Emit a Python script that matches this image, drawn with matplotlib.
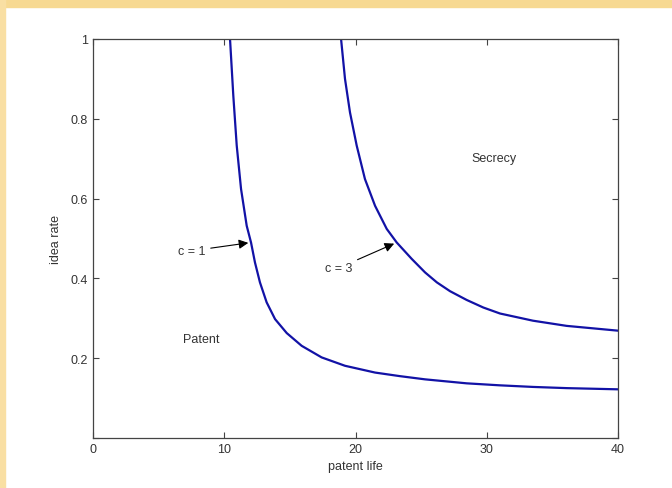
import matplotlib.pyplot as plt
from matplotlib.patches import Rectangle

# curve c = 1
x_c1 = [10.44, 10.69, 10.95, 11.28, 11.71, 12.04, 12.34, 12.72, 13.23, 13.87,
        14.76, 15.90, 17.42, 19.20, 21.49, 23.39, 25.30, 28.47, 31.0, 33.52,
        36.09, 40.0]
y_c1 = [1.0, 0.858, 0.733, 0.624, 0.532, 0.49, 0.44, 0.39, 0.34, 0.298,
        0.263, 0.231, 0.202, 0.181, 0.164, 0.155, 0.147, 0.137, 0.132, 0.128,
        0.125, 0.122]

# curve c = 3
x_c3 = [18.90, 19.20, 19.58, 20.09, 20.72, 21.49, 22.38, 23.14, 24.28, 25.30,
        26.2, 27.2, 28.47, 29.74, 31.01, 33.52, 36.09, 40.0]
y_c3 = [1.0, 0.9, 0.816, 0.733, 0.649, 0.582, 0.524, 0.49, 0.449, 0.415,
        0.39, 0.368, 0.346, 0.327, 0.312, 0.294, 0.281, 0.269]

xticks = [0, 10, 20, 30, 40]
yticks = [0, 0.2, 0.4, 0.6, 0.8, 1]
ytick_labels = ["", "0.2", "0.4", "0.6", "0.8", "1"]

plt.rcParams['font.family'] = ['Liberation Sans', 'DejaVu Sans']
txt = '#333333'

fig = plt.figure(figsize=(6.72, 4.89), dpi=100)
fig.patch.set_facecolor('white')
# yellow border strips top and left
fig.patches.append(Rectangle((0, 1 - 8 / 489), 1, 8 / 489, transform=fig.transFigure,
                             color='#F7D992', zorder=0))
fig.patches.append(Rectangle((0, 0), 5 / 672, 1, transform=fig.transFigure,
                             color='#F9DFA3', zorder=0))

ax = fig.add_axes([93 / 672, 1 - 439 / 489, (618 - 93) / 672, (439 - 40) / 489])
ax.plot(x_c1, y_c1, color='#1212a6', lw=1.6, solid_joinstyle='round')
ax.plot(x_c3, y_c3, color='#1212a6', lw=1.6, solid_joinstyle='round')

ax.set_xlim(0, 40)
ax.set_ylim(0, 1)
ax.set_xticks(xticks)
ax.set_yticks(yticks)
ax.set_yticklabels(ytick_labels)
ax.tick_params(direction='in', top=True, right=True, length=4, width=0.8,
               labelsize=9, labelcolor=txt, color='#444444')
for s in ax.spines.values():
    s.set_color('#444444')
    s.set_linewidth(0.9)

ax.set_xlabel('patent life', fontsize=9, color=txt, labelpad=4)
ax.set_ylabel('idea rate', fontsize=9, color=txt, labelpad=6)

arrow = dict(arrowstyle='-|>', color='black', lw=0.8, mutation_scale=14)
ax.annotate('c = 1', xy=(12.04, 0.49), xytext=(8.55, 0.469), ha='right', va='center',
            fontsize=9, color=txt, arrowprops=arrow)
ax.annotate('c = 3', xy=(23.14, 0.49), xytext=(19.75, 0.426), ha='right', va='center',
            fontsize=9, color=txt, arrowprops=arrow)
ax.text(30.55, 0.701, 'Secrecy', ha='center', va='center', fontsize=9, color=txt)
ax.text(8.23, 0.248, 'Patent', ha='center', va='center', fontsize=9, color=txt)

fig.savefig('out.png', dpi=100)
